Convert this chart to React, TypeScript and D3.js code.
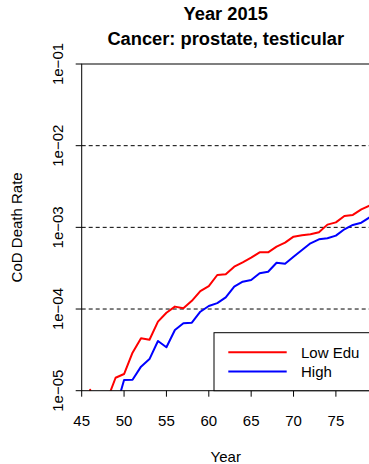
import React from "react";
import * as d3 from "d3";

const ages = d3.range(45, 80);
const lowEdu: (number | null)[] = [
  2e-6, 1.03e-5, 2e-6, 7.7e-6, 1.44e-5, 1.6e-5, 2.92e-5, 4.38e-5, 4.21e-5, 7.0e-5,
  9.0e-5, 1.07e-4, 1.02e-4, 1.26e-4, 1.66e-4, 1.91e-4, 2.61e-4, 2.66e-4, 3.3e-4, 3.73e-4,
  4.25e-4, 4.95e-4, 4.95e-4, 5.8e-4, 6.49e-4, 7.69e-4, 8.0e-4, 8.22e-4, 8.7e-4, 1.08e-3,
  1.15e-3, 1.38e-3, 1.42e-3, 1.66e-3, 1.85e-3,
];
const highEdu: (number | null)[] = [
  null, null, null, null, 5.9e-6, 1.35e-5, 1.36e-5, 1.97e-5, 2.44e-5, 4.06e-5,
  3.4e-5, 5.53e-5, 6.69e-5, 6.8e-5, 9.27e-5, 1.09e-4, 1.18e-4, 1.39e-4, 1.88e-4, 2.16e-4,
  2.27e-4, 2.74e-4, 2.86e-4, 3.69e-4, 3.59e-4, 4.37e-4, 5.28e-4, 6.38e-4, 7.14e-4, 7.35e-4,
  7.91e-4, 9.47e-4, 1.07e-3, 1.14e-3, 1.33e-3,
];
const xTicks = [45, 50, 55, 60, 65, 70, 75];
const yTicks = [1e-5, 1e-4, 1e-3, 1e-2, 1e-1];
const yTickLabels = ["1e\u221205", "1e\u221204", "1e\u221203", "1e\u221202", "1e\u221201"];
const gridValues = [1e-4, 1e-3, 1e-2];
const seriesNames = ["Low Edu", "High"];
const seriesColors = ["#ff0000", "#0000ff"];
const titleLines = ["Year 2015", "Cancer: prostate, testicular"];

const W = 369;
const H = 464;
const L = 81.7;
const R = 369.8;
const T = 64;
const B = 390.7;
const FONT = "'Liberation Sans', Arial, Helvetica, sans-serif";

export default function App() {
  const x = d3.scaleLinear().domain([45, 79]).range([L, R]);
  const y = d3.scaleLog().domain([1e-5, 1e-1]).range([B, T]);
  const mk = (vals: (number | null)[]) =>
    d3
      .line<number>()
      .defined((_, i) => vals[i] != null && (vals[i] as number) > 0)
      .x((a) => x(a))
      .y((_, i) => y(vals[i] as number))(ages) || "";
  const series = [lowEdu, highEdu];
  const cx = (L + R) / 2;
  const cy = (T + B) / 2;
  return (
    <svg
      width={W}
      height={H}
      style={{ position: "absolute", left: 0, top: 0, background: "#fff" }}
      fontFamily={FONT}
    >
      <defs>
        <clipPath id="plotclip">
          <rect x={L} y={T} width={R - L} height={B - T} />
        </clipPath>
      </defs>
      <rect x={0} y={0} width={W} height={H} fill="#fff" />
      {titleLines.map((t, i) => (
        <text
          key={t}
          x={cx}
          y={19.5 + i * 25}
          textAnchor="middle"
          fontWeight="bold"
          fontSize={18.3}
          fill="#000"
        >
          {t}
        </text>
      ))}
      {gridValues.map((v) => (
        <line
          key={v}
          x1={L}
          x2={R}
          y1={y(v)}
          y2={y(v)}
          stroke="#000"
          strokeWidth={1}
          strokeDasharray="4,3"
        />
      ))}
      <g clipPath="url(#plotclip)">
        {series.map((vals, i) => (
          <path
            key={i}
            d={mk(vals)}
            fill="none"
            stroke={seriesColors[i]}
            strokeWidth={2}
            strokeLinejoin="round"
          />
        ))}
      </g>
      <rect x={L} y={T} width={R - L} height={B - T} fill="none" stroke="#000" strokeWidth={1} />
      {xTicks.map((t) => (
        <g key={t}>
          <line x1={x(t)} x2={x(t)} y1={B} y2={B + 6} stroke="#000" />
          <text x={x(t)} y={425.7} textAnchor="middle" fontSize={15} fill="#000">
            {t}
          </text>
        </g>
      ))}
      {yTicks.map((t, i) => (
        <g key={t}>
          <line x1={L - 6} x2={L} y1={y(t)} y2={y(t)} stroke="#000" />
          <text
            transform={`translate(62.5,${y(t)}) rotate(-90)`}
            textAnchor="middle"
            fontSize={15}
            fill="#000"
          >
            {yTickLabels[i]}
          </text>
        </g>
      ))}
      <text x={cx} y={461.5} textAnchor="middle" fontSize={15} fill="#000">
        Year
      </text>
      <text
        transform={`translate(21.5,${cy}) rotate(-90)`}
        textAnchor="middle"
        fontSize={15}
        fill="#000"
      >
        CoD Death Rate
      </text>
      <rect x={214} y={332.7} width={200} height={B - 332.7} fill="#fff" stroke="#000" strokeWidth={1} />
      {seriesNames.map((n, i) => (
        <g key={n}>
          <line
            x1={228.3}
            x2={286.7}
            y1={352.3 + i * 19.3}
            y2={352.3 + i * 19.3}
            stroke={seriesColors[i]}
            strokeWidth={2}
          />
          <text x={301} y={357.8 + i * 19.3} fontSize={15} fill="#000">
            {n}
          </text>
        </g>
      ))}
    </svg>
  );
}
